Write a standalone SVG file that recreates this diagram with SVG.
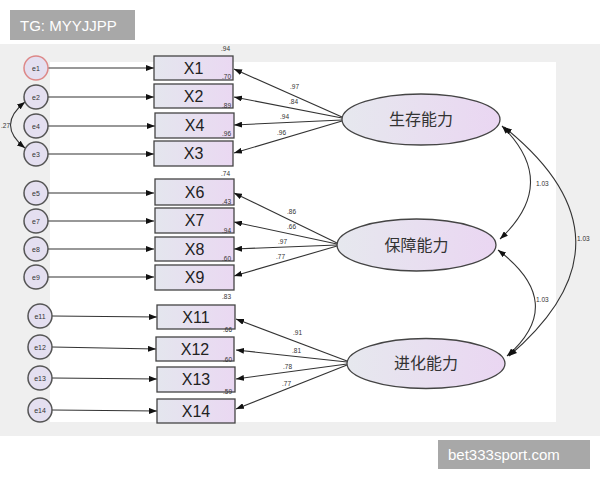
<svg xmlns="http://www.w3.org/2000/svg" width="600" height="480" viewBox="0 0 600 480">
<style>
.bx{fill:url(#gb);stroke:#444;stroke-width:1.3}
.ec{fill:#e4dff0;stroke:#555;stroke-width:1.5}
.el{fill:url(#ge);stroke:#444;stroke-width:1.3}
.ln{stroke:#333;stroke-width:1.1;fill:none}
.bt{font-family:"Liberation Sans",Arial,sans-serif;font-size:16px;fill:#222;text-anchor:middle}
.et{font-family:"Liberation Sans",Arial,sans-serif;font-size:7px;fill:#333;text-anchor:middle}
.sm{font-family:"Liberation Sans",Arial,sans-serif;font-size:6.5px;fill:#333}
.lt{font-family:"Noto Sans CJK SC","Noto Sans",sans-serif;font-size:16px;fill:#333;text-anchor:middle}
.wm{font-family:"Liberation Sans",Arial,sans-serif;font-size:15px;fill:#fff}
</style>
<defs>
<linearGradient id="gb" x1="0" y1="0" x2="1" y2="0"><stop offset="0" stop-color="#e4e6ee"/><stop offset="1" stop-color="#ead8f2"/></linearGradient>
<linearGradient id="ge" x1="0" y1="0" x2="1" y2="0"><stop offset="0" stop-color="#e6e8ee"/><stop offset="1" stop-color="#ead6f2"/></linearGradient>
<marker id="ar" viewBox="0 0 10 10" refX="10" refY="5" markerWidth="8" markerHeight="6" markerUnits="userSpaceOnUse" orient="auto-start-reverse" preserveAspectRatio="none"><path d="M0,0 L10,5 L0,10 z" fill="#111"/></marker>
</defs>
<rect x="0" y="0" width="600" height="480" fill="#fff"/>
<rect x="0" y="44" width="600" height="392" fill="#efefef"/>
<rect x="50" y="62" width="506" height="360" fill="#fff"/>
<rect x="10" y="10" width="125" height="30" fill="#a8a8a8"/>
<text class="wm" x="20" y="31">TG: MYYJJPP</text>
<rect x="438" y="440" width="152" height="29" fill="#a8a8a8"/>
<text class="wm" x="448" y="460">bet333sport.com</text>

<g id="connectors">
<line class="ln" x1="48" y1="68" x2="154" y2="68" marker-end="url(#ar)"/>
<line class="ln" x1="48" y1="97" x2="154" y2="97" marker-end="url(#ar)"/>
<line class="ln" x1="48" y1="126" x2="155" y2="126" marker-end="url(#ar)"/>
<line class="ln" x1="48" y1="154" x2="154" y2="154" marker-end="url(#ar)"/>
<line class="ln" x1="48" y1="193" x2="154" y2="193" marker-end="url(#ar)"/>
<line class="ln" x1="48" y1="221" x2="154" y2="221" marker-end="url(#ar)"/>
<line class="ln" x1="48" y1="249" x2="154" y2="249" marker-end="url(#ar)"/>
<line class="ln" x1="48" y1="277" x2="154" y2="277" marker-end="url(#ar)"/>
<line class="ln" x1="52" y1="316" x2="157" y2="317" marker-end="url(#ar)"/>
<line class="ln" x1="52" y1="347" x2="156" y2="349" marker-end="url(#ar)"/>
<line class="ln" x1="52" y1="378" x2="157" y2="379" marker-end="url(#ar)"/>
<line class="ln" x1="52" y1="410" x2="157" y2="411" marker-end="url(#ar)"/>
<path class="ln" d="M25,102 Q-4,125 25,148" marker-start="url(#ar)" marker-end="url(#ar)"/>
<line class="ln" x1="342" y1="117" x2="234" y2="69" marker-end="url(#ar)"/>
<line class="ln" x1="342" y1="118" x2="234" y2="97" marker-end="url(#ar)"/>
<line class="ln" x1="342" y1="120" x2="234" y2="125" marker-end="url(#ar)"/>
<line class="ln" x1="342" y1="121" x2="234" y2="153" marker-end="url(#ar)"/>
<line class="ln" x1="337" y1="243" x2="234" y2="193" marker-end="url(#ar)"/>
<line class="ln" x1="337" y1="244" x2="234" y2="222" marker-end="url(#ar)"/>
<line class="ln" x1="337" y1="245" x2="234" y2="249" marker-end="url(#ar)"/>
<line class="ln" x1="337" y1="246" x2="234" y2="276" marker-end="url(#ar)"/>
<line class="ln" x1="347" y1="361" x2="236" y2="319" marker-end="url(#ar)"/>
<line class="ln" x1="347" y1="362" x2="236" y2="350" marker-end="url(#ar)"/>
<line class="ln" x1="347" y1="364" x2="236" y2="379" marker-end="url(#ar)"/>
<line class="ln" x1="347" y1="365" x2="236" y2="409" marker-end="url(#ar)"/>
<path class="ln" d="M502,126 Q560,183 500,239" marker-start="url(#ar)" marker-end="url(#ar)"/>
<path class="ln" d="M498,250 Q568,303 507,356" marker-start="url(#ar)" marker-end="url(#ar)"/>
<path class="ln" d="M504,127 Q645,240 509,356" marker-start="url(#ar)" marker-end="url(#ar)"/>
<text class="sm" x="1" y="128">.27</text>
<text class="sm" x="290" y="89">.97</text>
<text class="sm" x="289" y="104">.84</text>
<text class="sm" x="280" y="119">.94</text>
<text class="sm" x="277" y="135">.96</text>
<text class="sm" x="287" y="214">.86</text>
<text class="sm" x="287" y="229">.66</text>
<text class="sm" x="278" y="244">.97</text>
<text class="sm" x="276" y="259">.77</text>
<text class="sm" x="293" y="335">.91</text>
<text class="sm" x="292" y="353">.81</text>
<text class="sm" x="283" y="369">.78</text>
<text class="sm" x="282" y="386">.77</text>
<text class="sm" x="536" y="186">1.03</text>
<text class="sm" x="536" y="302">1.03</text>
<text class="sm" x="577" y="241">1.03</text>
</g>

<g id="e1"><circle class="ec" cx="36" cy="68" r="12" style="stroke:#d88"/><text class="et" x="36" y="70.5">e1</text></g>
<g id="e2"><circle class="ec" cx="36" cy="97" r="12"/><text class="et" x="36" y="99.5">e2</text></g>
<g id="e4"><circle class="ec" cx="36" cy="126" r="12"/><text class="et" x="36" y="128.5">e4</text></g>
<g id="e3"><circle class="ec" cx="36" cy="154" r="12"/><text class="et" x="36" y="156.5">e3</text></g>
<g id="e5"><circle class="ec" cx="36" cy="193" r="12"/><text class="et" x="36" y="195.5">e5</text></g>
<g id="e7"><circle class="ec" cx="36" cy="221" r="12"/><text class="et" x="36" y="223.5">e7</text></g>
<g id="e8"><circle class="ec" cx="36" cy="249" r="12"/><text class="et" x="36" y="251.5">e8</text></g>
<g id="e9"><circle class="ec" cx="36" cy="277" r="12"/><text class="et" x="36" y="279.5">e9</text></g>
<g id="e11"><circle class="ec" cx="40" cy="316" r="12"/><text class="et" x="40" y="318.5">e11</text></g>
<g id="e12"><circle class="ec" cx="40" cy="347" r="12"/><text class="et" x="40" y="349.5">e12</text></g>
<g id="e13"><circle class="ec" cx="40" cy="378" r="12"/><text class="et" x="40" y="380.5">e13</text></g>
<g id="e14"><circle class="ec" cx="40" cy="410" r="12"/><text class="et" x="40" y="412.5">e14</text></g>

<g id="X1"><rect class="bx" x="154" y="56" width="79" height="24"/><text class="bt" x="193.5" y="74">X1</text></g>
<g id="X2"><rect class="bx" x="154" y="84" width="79" height="24"/><text class="bt" x="193.5" y="102">X2</text></g>
<g id="X4"><rect class="bx" x="155" y="113" width="79" height="25"/><text class="bt" x="194.5" y="131">X4</text></g>
<g id="X3"><rect class="bx" x="154" y="141" width="79" height="25"/><text class="bt" x="193.5" y="159">X3</text></g>
<g id="X6"><rect class="bx" x="155" y="179" width="79" height="26"/><text class="bt" x="194.5" y="198">X6</text></g>
<g id="X7"><rect class="bx" x="155" y="208" width="79" height="25"/><text class="bt" x="194.5" y="226">X7</text></g>
<g id="X8"><rect class="bx" x="155" y="237" width="79" height="24"/><text class="bt" x="194.5" y="255">X8</text></g>
<g id="X9"><rect class="bx" x="155" y="265" width="79" height="25"/><text class="bt" x="194.5" y="283">X9</text></g>
<g id="X11"><rect class="bx" x="157" y="305" width="78" height="24"/><text class="bt" x="196" y="323">X11</text></g>
<g id="X12"><rect class="bx" x="156" y="337" width="78" height="24"/><text class="bt" x="195" y="355">X12</text></g>
<g id="X13"><rect class="bx" x="157" y="367" width="78" height="25"/><text class="bt" x="196" y="385">X13</text></g>
<g id="X14"><rect class="bx" x="157" y="399" width="78" height="24"/><text class="bt" x="196" y="417">X14</text></g>

<g id="r2">
<text class="sm" x="221" y="51">.94</text>
<text class="sm" x="222" y="79">.70</text>
<text class="sm" x="222" y="108">.89</text>
<text class="sm" x="222" y="136">.96</text>
<text class="sm" x="221" y="176">.74</text>
<text class="sm" x="222" y="204">.43</text>
<text class="sm" x="222" y="233">.94</text>
<text class="sm" x="222" y="261">.60</text>
<text class="sm" x="222" y="299">.83</text>
<text class="sm" x="223" y="332">.66</text>
<text class="sm" x="223" y="362">.60</text>
<text class="sm" x="223" y="394">.59</text>
</g>

<g id="F1"><ellipse class="el" cx="421" cy="119.5" rx="79" ry="25.5"/><text class="lt" x="421" y="125">生存能力</text></g>
<g id="F2"><ellipse class="el" cx="416.5" cy="245" rx="79.5" ry="26"/><text class="lt" x="416.5" y="251">保障能力</text></g>
<g id="F3"><ellipse class="el" cx="426" cy="363.5" rx="79" ry="25"/><text class="lt" x="426" y="369">进化能力</text></g>
</svg>
